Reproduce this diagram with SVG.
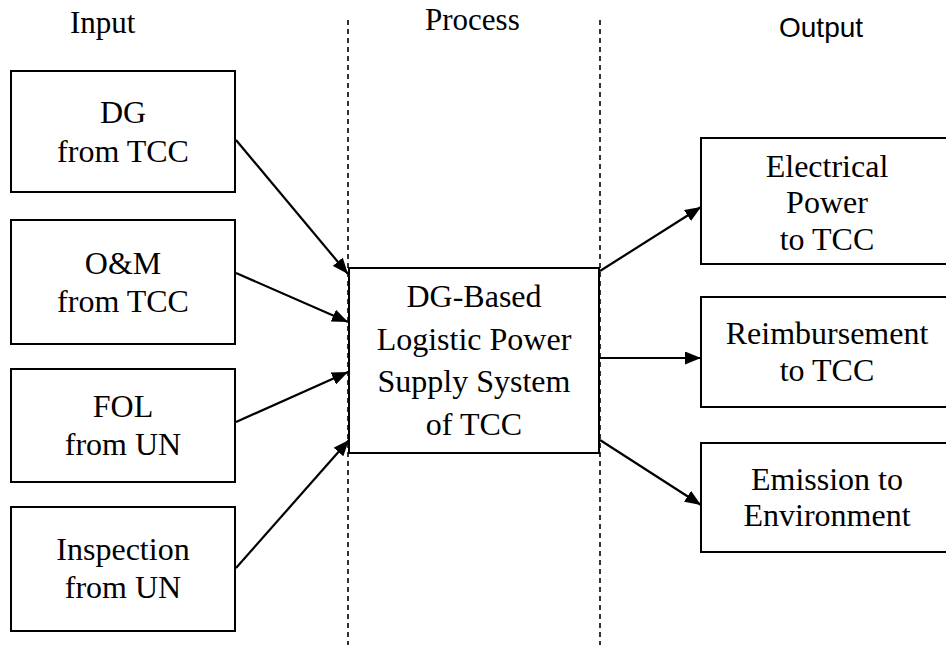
<svg xmlns="http://www.w3.org/2000/svg" width="946" height="645" viewBox="0 0 946 645">
  <defs>
    <marker id="arrowhead" markerUnits="userSpaceOnUse" markerWidth="16" markerHeight="13" refX="16" refY="6.5" orient="auto">
      <path d="M0,0 L16,6.5 L0,13 z" fill="#000"/>
    </marker>
    <style>
      .box { fill: #fff; stroke: #000; stroke-width: 2; }
      .lbl { font-family: "Liberation Serif", "Times New Roman", serif; font-size: 32px; fill: #000; text-anchor: middle; }
      .head { font-family: "Liberation Serif", "Times New Roman", serif; font-size: 31px; fill: #000; }
      .head-sans { font-family: "Liberation Sans", Arial, sans-serif; font-size: 28px; fill: #000; }
      .divider { stroke: #000; stroke-width: 1.6; stroke-dasharray: 5 4; fill: none; }
      .link { stroke: #000; stroke-width: 2.2; fill: none; marker-end: url(#arrowhead); }
    </style>
  </defs>
  <rect width="946" height="645" fill="#fff"/>

  <!-- column headings -->
  <g id="headings">
    <text class="head" x="70" y="33">Input</text>
    <text class="head" x="425" y="30">Process</text>
    <text class="head-sans" x="779" y="37">Output</text>
  </g>

  <!-- column dividers -->
  <g id="dividers">
    <line class="divider" x1="348" y1="20" x2="348" y2="645"/>
    <line class="divider" x1="600" y1="20" x2="600" y2="645"/>
  </g>

  <!-- inputs -->
  <g id="in-dg">
    <rect class="box" x="11" y="71" width="224" height="121"/>
    <text class="lbl" x="123" y="123">DG</text>
    <text class="lbl" x="123" y="162">from TCC</text>
  </g>
  <g id="in-om">
    <rect class="box" x="11" y="220" width="224" height="124"/>
    <text class="lbl" x="123" y="274">O&amp;M</text>
    <text class="lbl" x="123" y="312">from TCC</text>
  </g>
  <g id="in-fol">
    <rect class="box" x="11" y="369" width="224" height="113"/>
    <text class="lbl" x="123" y="417">FOL</text>
    <text class="lbl" x="123" y="455">from UN</text>
  </g>
  <g id="in-inspection">
    <rect class="box" x="11" y="507" width="224" height="124"/>
    <text class="lbl" x="123" y="560">Inspection</text>
    <text class="lbl" x="123" y="598">from UN</text>
  </g>

  <!-- process -->
  <g id="process">
    <rect class="box" x="349" y="268" width="250" height="185"/>
    <text class="lbl" x="474" y="307">DG-Based</text>
    <text class="lbl" x="474" y="350">Logistic Power</text>
    <text class="lbl" x="474" y="392">Supply System</text>
    <text class="lbl" x="474" y="435">of TCC</text>
  </g>

  <!-- outputs -->
  <g id="out-power">
    <rect class="box" x="701" y="138" width="252" height="126"/>
    <text class="lbl" x="827" y="177">Electrical</text>
    <text class="lbl" x="827" y="213">Power</text>
    <text class="lbl" x="827" y="250">to TCC</text>
  </g>
  <g id="out-reimbursement">
    <rect class="box" x="701" y="297" width="252" height="110"/>
    <text class="lbl" x="827" y="344">Reimbursement</text>
    <text class="lbl" x="827" y="381">to TCC</text>
  </g>
  <g id="out-emission">
    <rect class="box" x="701" y="443" width="252" height="109"/>
    <text class="lbl" x="827" y="490">Emission to</text>
    <text class="lbl" x="827" y="526">Environment</text>
  </g>

  <!-- flows -->
  <g id="connectors">
    <line class="link" x1="236" y1="140" x2="348" y2="274"/>
    <line class="link" x1="236" y1="273" x2="348" y2="322"/>
    <line class="link" x1="236" y1="422" x2="348" y2="372"/>
    <line class="link" x1="236" y1="568" x2="349" y2="440"/>
    <line class="link" x1="600" y1="271" x2="701" y2="207"/>
    <line class="link" x1="600" y1="358" x2="701" y2="358"/>
    <line class="link" x1="600" y1="440" x2="701" y2="505"/>
  </g>
</svg>
